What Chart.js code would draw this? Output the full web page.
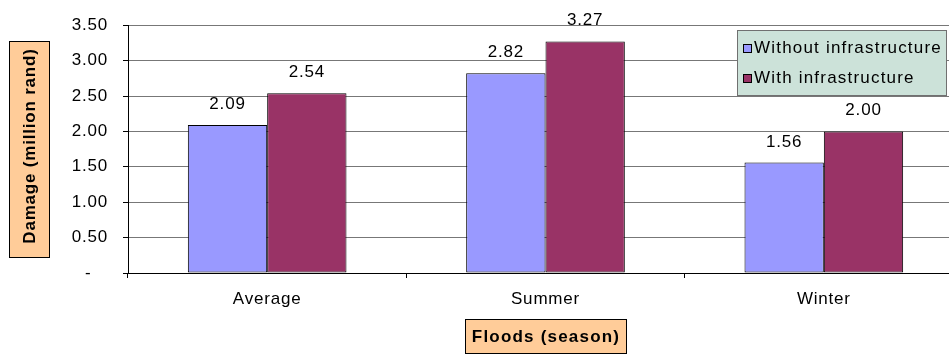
<!DOCTYPE html>
<html lang="en">
<head>
  <meta charset="UTF-8">
  <title>Flood damage</title>
  <script src="https://cdn.jsdelivr.net/npm/chart.js"></script>
  <style>
    html, body { margin: 0; padding: 0; background: #fff; overflow: hidden; }
    /* the plot area runs past the right edge in the original, so the canvas is cut */
    .chart-container { width: 949px; height: 358px; overflow: hidden; }
  </style>
</head>
<body>
  <div class="chart-container">
    <canvas id="myChart" width="963" height="358"></canvas>
  </div>
<script>
  // data
  const seasons = ['Average', 'Summer', 'Winter'];
  const withoutInfra = [2.09, 2.82, 1.56];
  const withInfra = [2.54, 3.27, 2.00];
  const seriesNames = ['Without infrastructure', 'With infrastructure'];
  const yTickValues = [0, 0.5, 1, 1.5, 2, 2.5, 3, 3.5];
  const yTitle = 'Damage (million rand)';
  const xTitle = 'Floods (season)';

  const FONT = 'Arial, "Liberation Sans", sans-serif';
  const SIZE = 17;
  const SPACING = '0.8px';

  function drawText(ctx, str, x, y, opts) {
    ctx.save();
    ctx.font = (opts.bold ? 'bold ' : '') + SIZE + 'px ' + FONT;
    ctx.letterSpacing = opts.spacing || SPACING;
    ctx.textAlign = opts.align || 'center';
    ctx.textBaseline = opts.baseline || 'middle';
    ctx.fillStyle = '#000';
    if (opts.rotate) {
      ctx.translate(x, y);
      ctx.rotate(opts.rotate);
      ctx.fillText(str, 0, 0);
    } else {
      ctx.fillText(str, x, y);
    }
    ctx.restore();
  }

  function titleBox(ctx, x, y, w, h) {
    ctx.save();
    ctx.fillStyle = '#FFCC99';
    ctx.fillRect(x, y, w, h);
    ctx.strokeStyle = '#000';
    ctx.lineWidth = 1;
    ctx.strokeRect(x + 0.5, y + 0.5, w, h);
    ctx.restore();
  }

  const extras = {
    id: 'extras',
    beforeDraw(chart) {
      chart.ctx.letterSpacing = SPACING;
    },
    afterDatasetsDraw(chart) {
      const ctx = chart.ctx;
      chart.data.datasets.forEach((ds, i) => {
        chart.getDatasetMeta(i).data.forEach((bar, j) => {
          drawText(ctx, ds.data[j].toFixed(2), bar.x, bar.y - 16, { baseline: 'alphabetic' });
        });
      });
    },
    afterDraw(chart) {
      const ctx = chart.ctx;

      // axis titles in peach boxes
      titleBox(ctx, 9, 41, 40, 216);
      drawText(ctx, yTitle, 30, 146, { bold: true, rotate: -Math.PI / 2 });
      titleBox(ctx, 465, 319, 161, 34);
      drawText(ctx, xTitle, 546, 337, { bold: true, spacing: '1.2px' });

      // legend
      ctx.save();
      ctx.fillStyle = '#CCE2D9';
      ctx.fillRect(737, 30, 210, 66);
      ctx.strokeStyle = '#707070';
      ctx.strokeRect(737.5, 30.5, 209, 65);
      ctx.restore();
      const rows = [48, 78];
      chart.data.datasets.forEach((ds, i) => {
        ctx.save();
        ctx.fillStyle = ds.backgroundColor;
        ctx.fillRect(743, rows[i] - 4, 9, 9);
        ctx.strokeStyle = '#000';
        ctx.strokeRect(743.5, rows[i] - 3.5, 8, 8);
        ctx.restore();
        drawText(ctx, ds.label, 754, rows[i], { align: 'left', spacing: '1.2px' });
      });
    }
  };

  const data = {
    labels: seasons,
    datasets: [{
      label: seriesNames[0],
      data: withoutInfra,
      backgroundColor: '#9999FF',
      borderColor: '#000',
      borderWidth: 1,
      borderSkipped: false
    }, {
      label: seriesNames[1],
      data: withInfra,
      backgroundColor: '#993366',
      borderColor: '#000',
      borderWidth: 1,
      borderSkipped: false
    }]
  };

  const config = {
    type: 'bar',
    data: data,
    options: {
      responsive: false,
      animation: false,
      devicePixelRatio: 1,
      categoryPercentage: 0.57,
      barPercentage: 1.0,
      layout: { padding: { top: 24, left: 0, right: 0, bottom: 0 } },
      plugins: {
        legend: { display: false },
        tooltip: { enabled: false }
      },
      scales: {
        x: {
          grid: {
            display: true,
            drawOnChartArea: false,
            drawTicks: true,
            tickLength: 5,
            tickColor: '#000',
            offset: true
          },
          border: { color: '#000' },
          ticks: {
            color: '#000',
            padding: 11,
            font: { size: SIZE, family: FONT }
          },
          afterFit: s => { s.height = 85; }
        },
        y: {
          min: 0,
          max: 3.5,
          afterBuildTicks: s => { s.ticks = yTickValues.map(v => ({ value: v })); },
          grid: {
            color: '#777777',
            tickColor: '#000',
            tickLength: 5
          },
          border: { color: '#000' },
          ticks: {
            color: '#000',
            padding: 15,
            font: { size: SIZE, family: FONT },
            callback: v => v === 0 ? '-   ' : v.toFixed(2)
          },
          afterFit: s => { s.width = 128; }
        }
      }
    },
    plugins: [extras]
  };

  const myChart = new Chart(document.getElementById('myChart'), config);
</script>
</body>
</html>
